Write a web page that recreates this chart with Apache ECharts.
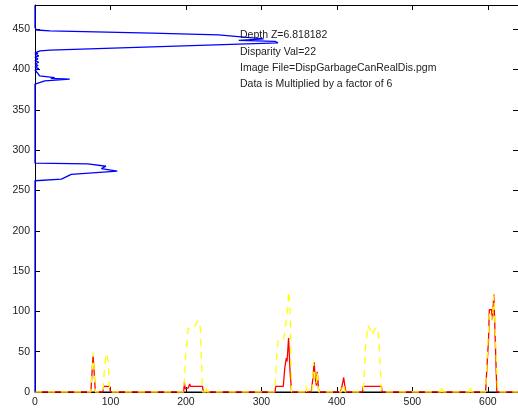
<!DOCTYPE html>
<html>
<head>
<meta charset="utf-8">
<script src="https://cdn.jsdelivr.net/npm/echarts@6/dist/echarts.min.js"></script>
<style>html,body{margin:0;padding:0;background:#fff;}#c{width:518px;height:408px;}</style>
</head>
<body>
<div id="c"></div>
<script>
// Blue vertical profile: value (x) at image row (y)
var blueRows = [0, 262, 263, 264, 270, 274, 277, 279, 280, 282, 283, 284, 382, 384, 386, 388, 389, 390, 392, 393, 395, 397, 399, 401, 403, 405, 407, 409, 411, 413, 415, 417, 419, 420, 421, 422, 423, 424, 433, 435, 436, 438, 443, 445, 448, 449, 450, 451, 452, 479];
var blueVals = [0, 0, 2, 35, 48, 109, 88, 88, 94, 94, 70, 0, 0, 0, 13, 46, 21, 26, 6, 5, 4, 4, 0, 5, 0, 4, 0, 5, 0, 4, 0, 5, 0, 4, 0, 2, 7, 20, 322, 318, 270, 303, 243, 155, 20, 2, 2, 3, 0, 0];

// Red solid profile along columns
var redX = [0, 74, 76, 77, 78, 80, 90, 91, 99, 100, 197, 198, 199, 203, 205, 206, 222, 223, 318, 319, 329, 331, 333, 334, 336, 338, 340, 366, 368, 370, 371, 373, 374, 376, 405, 407, 409, 411, 412, 434, 435, 459, 460, 597, 600, 601, 602, 605, 606, 608, 610, 612, 640];
var redY = [0, 0, 30, 45, 30, 0, 0, 7, 7, 0, 0, 12, 4, 5, 10, 7, 7, 0, 0, 7, 7, 30, 42, 38, 67, 25, 0, 0, 15, 37, 20, 8, 25, 0, 0, 8, 18, 5, 0, 0, 7, 7, 0, 0, 50, 66, 102, 102, 89, 121, 60, 0, 0];

// Yellow dashed profile along columns
var yelX = [0, 74, 76, 77, 78, 80, 90, 92, 94, 95, 97, 99, 197, 200, 203, 210, 213, 216, 219, 222, 226, 227, 228, 318, 320, 322, 329, 331, 333, 335, 336, 338, 340, 358, 359, 360, 367, 369, 371, 373, 374, 376, 406, 408, 410, 411, 435, 438, 441, 444, 447, 450, 454, 456, 459, 538, 539, 540, 576, 577, 578, 597, 600, 602, 605, 606, 608, 610, 613, 640];
var yelY = [0, 0, 30, 48, 30, 0, 0, 30, 45, 48, 38, 0, 0, 50, 79, 79, 84, 89, 80, 0, 0, 8, 0, 0, 40, 63, 63, 74, 90, 105, 125, 100, 0, 0, 8, 0, 0, 37, 15, 10, 25, 0, 0, 10, 5, 0, 0, 55, 83, 78, 70, 78, 80, 60, 0, 0, 8, 0, 0, 8, 0, 0, 60, 95, 100, 88, 120, 70, 0, 0];

// Black baseline
var blackX = [0, 640];
var blackY = [0, 0];

var xTicks = [0, 100, 200, 300, 400, 500, 600];
var yTicks = [0, 50, 100, 150, 200, 250, 300, 350, 400, 450];

var notes = ['Depth Z=6.818182', 'Disparity Val=22', 'Image File=DispGarbageCanRealDis.pgm', 'Data is Multiplied by a factor of 6'];

function zip(a, b) { return a.map(function (v, i) { return [v, b[i]]; }); }

var chart = echarts.init(document.getElementById('c'), null, { renderer: 'canvas' });
var FONT = 'Liberation Sans, Arial, Helvetica, sans-serif';
var axCommon = {
  type: 'value', min: 0,
  axisLine: { show: true, onZero: false, lineStyle: { color: '#000', width: 1 } },
  axisTick: { show: true, inside: true, length: 5, lineStyle: { color: '#000' } },
  splitLine: { show: false }
};
chart.setOption({
  animation: false,
  backgroundColor: '#fff',
  grid: { left: 35, top: 5, width: 485, height: 387, containLabel: false },
  xAxis: [
    Object.assign({}, axCommon, { position: 'bottom', max: 640, interval: 100,
      axisLabel: { show: true, color: '#222', fontSize: 10.5, fontFamily: FONT, margin: 5, showMaxLabel: false,
        formatter: function (v) { return xTicks.indexOf(v) >= 0 ? String(v) : ''; } } }),
    Object.assign({}, axCommon, { position: 'top', max: 640, interval: 100, axisLabel: { show: false } })
  ],
  yAxis: [
    Object.assign({}, axCommon, { position: 'left', max: 480, interval: 50,
      axisLabel: { show: true, color: '#222', fontSize: 10.5, fontFamily: FONT, margin: 5, showMaxLabel: false,
        formatter: function (v) { return yTicks.indexOf(v) >= 0 ? String(v) : ''; } } }),
    Object.assign({}, axCommon, { position: 'right', max: 480, interval: 50, axisLabel: { show: false } })
  ],
  series: [
    { type: 'line', data: zip(blackX, blackY), symbol: 'none', lineStyle: { color: '#000', width: 1.2 }, z: 2 },
    { type: 'line', data: zip(redX, redY), symbol: 'none', lineStyle: { color: '#ff0000', width: 1.3 }, z: 3 },
    { type: 'line', data: zip(yelX, yelY), symbol: 'none', lineStyle: { color: '#ffff00', width: 1.3, type: [7, 6] }, z: 4 },
    { type: 'line', data: zip(blueVals, blueRows), symbol: 'none', lineStyle: { color: '#0000ff', width: 1.3 }, z: 5 }
  ],
  graphic: notes.map(function (t, i) {
    return { type: 'text', left: 240, top: 30 + i * 16.3, z: 10,
      style: { text: t, fill: '#222', font: '10.5px ' + FONT } };
  })
});
</script>
</body>
</html>
